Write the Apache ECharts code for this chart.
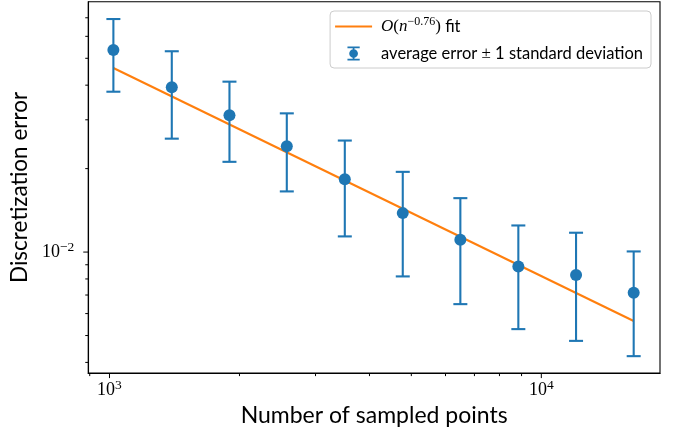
<!DOCTYPE html>
<html>
<head>
<meta charset="utf-8">
<script src="https://cdn.jsdelivr.net/npm/echarts@6/dist/echarts.min.js"></script>
<style>
html,body{margin:0;padding:0;background:#fff;}
#chart{width:675px;height:432px;}
</style>
</head>
<body>
<div id="chart"></div>
<script>
// ---- data ----
const sampledPoints = [1021, 1394, 1896, 2574, 3507, 4777, 6494, 8847, 12035, 16365];
const avgError      = [0.05358, 0.03933, 0.03117, 0.0241, 0.01832, 0.01382, 0.01107, 0.008874, 0.008263, 0.007133];
const stdError      = [0.0157, 0.01368, 0.01001, 0.00755, 0.00693, 0.00565, 0.00458, 0.0036, 0.00348, 0.00292];
const fitX = [1021, 16365];
const fitY = [0.04614, 0.005642];
const xMajorTicks = [1000, 10000];
const xMinorTicks = [900, 2000, 3000, 4000, 5000, 6000, 7000, 8000, 9000];
const yMajorTicks = [0.01];
const yMinorTicks = [0.004, 0.005, 0.006, 0.007, 0.008, 0.009, 0.02, 0.03, 0.04, 0.05, 0.06, 0.07];
const xRange = [893, 18830];
const yRange = [0.00366, 0.0800];

const BLUE = '#1f77b4', ORANGE = '#ff7f0e';
const SERIF = 'Liberation Serif';
const SANS = 'Lato';

function powLabel(v) {
  const e = Math.log10(v);
  const r = Math.round(e);
  if (Math.abs(e - r) > 1e-6) return '';
  return '{b|10}{s|' + String(r).replace('-', '\u2212') + '}';
}
const labelRich = {
  b: {fontFamily: SERIF, fontSize: 18, color: '#000'},
  s: {fontFamily: SERIF, fontSize: 13.5, color: '#000', padding: [0, 0, 10, 0]}
};

const chart = echarts.init(document.getElementById('chart'), null, {renderer: 'canvas'});

const errData = sampledPoints.map((x, i) => [x, avgError[i] - stdError[i], avgError[i] + stdError[i]]);
const scatterData = sampledPoints.map((x, i) => [x, avgError[i]]);
const fitData = fitX.map((x, i) => [x, fitY[i]]);

const tickData = []
  .concat(xMajorTicks.map(v => [v, 0.01, 0, 5]))
  .concat(xMinorTicks.map(v => [v, 0.01, 0, 3]))
  .concat(yMajorTicks.map(v => [1000, v, 1, 5]))
  .concat(yMinorTicks.map(v => [1000, v, 1, 3]));

chart.setOption({
  animation: false,
  backgroundColor: '#fff',
  grid: {
    left: 88, right: 15, top: 1.7, bottom: 58.7,
    show: true, borderColor: '#000', borderWidth: 1.1, backgroundColor: 'transparent'
  },
  legend: {
    orient: 'vertical',
    right: 24, top: 11,
    padding: [5, 8, 6, 5],
    itemGap: 10,
    itemWidth: 37, itemHeight: 14,
    backgroundColor: 'rgba(255,255,255,0.8)',
    borderColor: '#cccccc', borderWidth: 1, borderRadius: 4,
    data: [
      {name: 'fit', icon: 'path://M0,0H37V2H0Z'},
      {name: 'avg', icon: 'path://M0,0H14V2H0Z M6,0H8V16H6Z M0,14H14V16H0Z M7,3A5,5,0,1,1,7,13A5,5,0,1,1,7,3Z'}
    ],
    formatter: function (name) {
      if (name === 'fit') return '{c|O}{p|(}{i|n}{s|\u22120.76}{p|)}{t| fit}';
      return '{t|average error }{p|\u00b1}{t| 1 standard deviation}';
    },
    textStyle: {
      color: '#000', fontFamily: SANS, fontSize: 16.5, padding: [0, 0, 0, 4],
      rich: {
        c: {fontFamily: SERIF, fontStyle: 'italic', fontSize: 17, color: '#000'},
        p: {fontFamily: SERIF, fontSize: 17, color: '#000'},
        i: {fontFamily: SERIF, fontStyle: 'italic', fontSize: 17, color: '#000'},
        s: {fontFamily: SERIF, fontSize: 12, color: '#000', padding: [0, 0, 9, 0]},
        t: {fontFamily: SANS, fontSize: 16.5, color: '#000'}
      }
    }
  },
  xAxis: {
    type: 'log', logBase: 10,
    min: xRange[0], max: xRange[1],
    name: 'Number of sampled points',
    nameLocation: 'middle', nameGap: 28,
    nameTextStyle: {fontFamily: SANS, fontSize: 23, color: '#000'},
    axisLine: {show: true, onZero: false, lineStyle: {color: '#000', width: 1.1}},
    axisTick: {show: false},
    minorTick: {show: false},
    splitLine: {show: false},
    axisLabel: {margin: 5, fontFamily: SERIF, fontSize: 18, color: '#000', formatter: powLabel, rich: labelRich}
  },
  yAxis: {
    type: 'log', logBase: 10,
    min: yRange[0], max: yRange[1],
    name: 'Discretization error',
    nameLocation: 'middle', nameGap: 49,
    nameTextStyle: {fontFamily: SANS, fontSize: 22.5, color: '#000'},
    axisLine: {show: true, onZero: false, lineStyle: {color: '#000', width: 1.1}},
    axisTick: {show: false},
    minorTick: {show: false},
    splitLine: {show: false},
    axisLabel: {margin: 14, fontFamily: SERIF, fontSize: 18, color: '#000', formatter: powLabel, rich: labelRich}
  },
  series: [
    {
      name: 'fit', type: 'line', data: fitData,
      symbol: 'none', z: 2,
      lineStyle: {color: ORANGE, width: 2.1},
      itemStyle: {color: ORANGE}
    },
    {
      name: 'avg', type: 'custom', data: errData, z: 3,
      itemStyle: {color: BLUE},
      renderItem: function (params, api) {
        const x = api.value(0);
        const pLo = api.coord([x, api.value(1)]);
        const pHi = api.coord([x, api.value(2)]);
        const cw = 7;
        const st = {stroke: BLUE, lineWidth: 2.1};
        return {
          type: 'group',
          children: [
            {type: 'line', shape: {x1: pHi[0], y1: pHi[1], x2: pLo[0], y2: pLo[1]}, style: st},
            {type: 'line', shape: {x1: pHi[0] - cw, y1: pHi[1], x2: pHi[0] + cw, y2: pHi[1]}, style: st},
            {type: 'line', shape: {x1: pLo[0] - cw, y1: pLo[1], x2: pLo[0] + cw, y2: pLo[1]}, style: st}
          ]
        };
      }
    },
    {
      name: 'avg', type: 'scatter', data: scatterData, z: 4,
      symbol: 'circle', symbolSize: 12,
      itemStyle: {color: BLUE, opacity: 1}
    },
    {
      name: 'ticks', type: 'custom', data: tickData, z: 5, silent: true, clip: false,
      renderItem: function (params, api) {
        const cs = params.coordSys;
        const axisKind = api.value(2);
        const len = api.value(3);
        const p = api.coord([api.value(0), api.value(1)]);
        let shape;
        if (axisKind === 0) {
          const yb = cs.y + cs.height;
          shape = {x1: p[0], y1: yb, x2: p[0], y2: yb + len};
        } else {
          shape = {x1: cs.x, y1: p[1], x2: cs.x - len, y2: p[1]};
        }
        return {type: 'line', shape: shape, style: {stroke: '#000', lineWidth: 1}};
      }
    }
  ]
});
</script>
</body>
</html>
